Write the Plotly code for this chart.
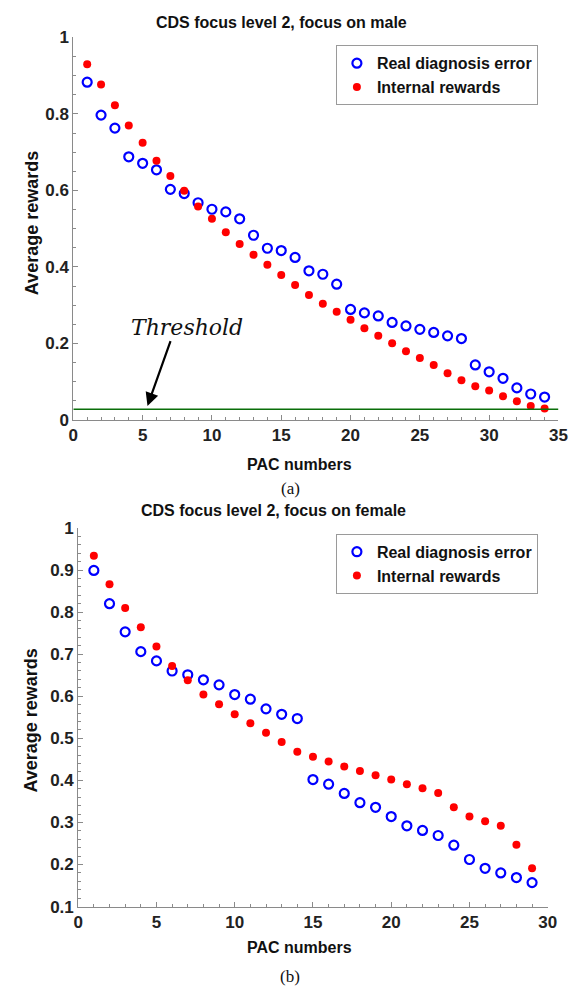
import plotly.graph_objects as go

W, H = 586, 999

# ---- data (a) male ----
pac_a = list(range(1, 35))
real_a = [0.883, 0.797, 0.763, 0.688, 0.671, 0.654, 0.603, 0.592, 0.568, 0.551,
          0.544, 0.526, 0.483, 0.449, 0.443, 0.425, 0.390, 0.381, 0.355, 0.289,
          0.280, 0.272, 0.255, 0.246, 0.237, 0.229, 0.220, 0.213, 0.144, 0.126,
          0.109, 0.084, 0.068, 0.060]
internal_a = [0.930, 0.877, 0.823, 0.770, 0.725, 0.678, 0.638, 0.599, 0.558, 0.526,
              0.491, 0.460, 0.432, 0.406, 0.379, 0.353, 0.327, 0.304, 0.283, 0.262,
              0.240, 0.220, 0.201, 0.180, 0.162, 0.144, 0.122, 0.104, 0.088, 0.077,
              0.062, 0.049, 0.037, 0.030]
threshold_a = 0.028

# ---- data (b) female ----
pac_b = list(range(1, 30))
real_b = [0.899, 0.820, 0.753, 0.706, 0.684, 0.660, 0.651, 0.639, 0.627, 0.604,
          0.593, 0.570, 0.557, 0.547, 0.402, 0.391, 0.369, 0.347, 0.336, 0.314,
          0.292, 0.281, 0.269, 0.246, 0.212, 0.191, 0.180, 0.169, 0.157]
internal_b = [0.934, 0.866, 0.810, 0.764, 0.718, 0.672, 0.638, 0.604, 0.581, 0.557,
              0.536, 0.513, 0.491, 0.468, 0.456, 0.445, 0.433, 0.422, 0.412, 0.402,
              0.391, 0.381, 0.370, 0.336, 0.314, 0.303, 0.292, 0.247, 0.191]


def px(x):
    return x / W


def py(y):
    return 1 - y / H


SANS = "Liberation Sans, Arial, sans-serif"
SERIF = "Liberation Serif, Times New Roman, serif"
BLUE = "#0000ff"
RED = "#ff0000"
AX = "#8a8a8a"

fig = go.Figure()

# top
fig.add_trace(go.Scatter(x=pac_a, y=real_a, mode="markers", name="Real diagnosis error",
                         marker=dict(symbol="circle-open", size=9, color=BLUE, line=dict(width=2.2, color=BLUE)),
                         xaxis="x", yaxis="y", legend="legend"))
fig.add_trace(go.Scatter(x=pac_a, y=internal_a, mode="markers", name="Internal rewards",
                         marker=dict(symbol="circle", size=8, color=RED, line=dict(width=0)),
                         xaxis="x", yaxis="y", legend="legend"))
fig.add_trace(go.Scatter(x=[0, 35], y=[threshold_a, threshold_a], mode="lines", showlegend=False,
                         line=dict(color="#0a6e0a", width=1.6), xaxis="x", yaxis="y", hoverinfo="skip"))

# bottom
fig.add_trace(go.Scatter(x=pac_b, y=real_b, mode="markers", name="Real diagnosis error",
                         marker=dict(symbol="circle-open", size=9, color=BLUE, line=dict(width=2.2, color=BLUE)),
                         xaxis="x2", yaxis="y2", legend="legend2"))
fig.add_trace(go.Scatter(x=pac_b, y=internal_b, mode="markers", name="Internal rewards",
                         marker=dict(symbol="circle", size=8, color=RED, line=dict(width=0)),
                         xaxis="x2", yaxis="y2", legend="legend2"))

tickfont = dict(family=SANS, size=17, color="#222", weight="bold")


def axis_common():
    return dict(showline=True, linecolor=AX, linewidth=1, ticks="inside", ticklen=5,
                tickcolor=AX, tickwidth=1, showgrid=False, zeroline=False,
                tickfont=tickfont, mirror=False)


legfont = dict(family=SANS, size=16, color="#111", weight="bold")

fig.update_layout(
    width=W, height=H, autosize=False,
    margin=dict(l=0, r=0, t=0, b=0),
    paper_bgcolor="white", plot_bgcolor="white",
    xaxis=dict(domain=[px(70), px(567)], range=[0, 35], dtick=5, tick0=0, anchor="y",
               minor=dict(ticks="inside", dtick=1, ticklen=3, tickcolor=AX),
               **axis_common()),
    yaxis=dict(domain=[py(419), py(29)], range=[0, 1], dtick=0.2, tick0=0, anchor="x",
               minor=dict(ticks="inside", dtick=0.05, ticklen=3, tickcolor=AX),
               **axis_common()),
    xaxis2=dict(domain=[px(75), px(556)], range=[0, 30], dtick=5, tick0=0, anchor="y2",
                minor=dict(ticks="inside", dtick=1, ticklen=3, tickcolor=AX),
                **axis_common()),
    yaxis2=dict(domain=[py(915), py(529)], range=[0.1, 1], dtick=0.1, tick0=0.1, anchor="x2",
                minor=dict(ticks="inside", dtick=0.02, ticklen=3, tickcolor=AX),
                **axis_common()),
    legend=dict(x=px(339), y=py(37), xanchor="left", yanchor="top",
                bordercolor="#9a9a9a", borderwidth=1, bgcolor="white",
                font=legfont, tracegroupgap=0, itemsizing="trace"),
    legend2=dict(x=px(339), y=py(535), xanchor="left", yanchor="top",
                 bordercolor="#9a9a9a", borderwidth=1, bgcolor="white",
                 font=legfont, tracegroupgap=0, itemsizing="trace"),
    showlegend=True,
)

ann = []


def text(x, y, s, size, family=SANS, bold=True, italic=False, angle=0):
    ann.append(dict(x=px(x), y=py(y), xref="paper", yref="paper", text=s, showarrow=False,
                    xanchor="center", yanchor="middle", textangle=angle,
                    font=dict(family=family, size=size, color="#111",
                              weight="bold" if bold else "normal",
                              style="italic" if italic else "normal")))


text(283, 14, "CDS focus level 2, focus on male", 16)
text(302, 464, "PAC numbers", 16)
text(27, 218, "Average rewards", 18, angle=-90)
text(292, 489, "(a)", 17, family=SERIF, bold=False)

text(275, 511, "CDS focus level 2, focus on female", 16)
text(302, 957, "PAC numbers", 16)
text(27, 725, "Average rewards", 18, angle=-90)
text(292, 986, "(b)", 17, family=SERIF, bold=False)

text(186, 325, "Threshold", 22, family="DejaVu Serif, serif", bold=False, italic=True)

# arrow to threshold line (data coords on top plot)
ann.append(dict(x=5.35, y=0.037, xref="x", yref="y", ax=7.05, ay=0.21, axref="x", ayref="y",
                showarrow=True, arrowhead=2, arrowsize=1.2, arrowwidth=2.2, arrowcolor="black", text=""))

fig.update_layout(annotations=ann)

fig.write_html("out.html")
